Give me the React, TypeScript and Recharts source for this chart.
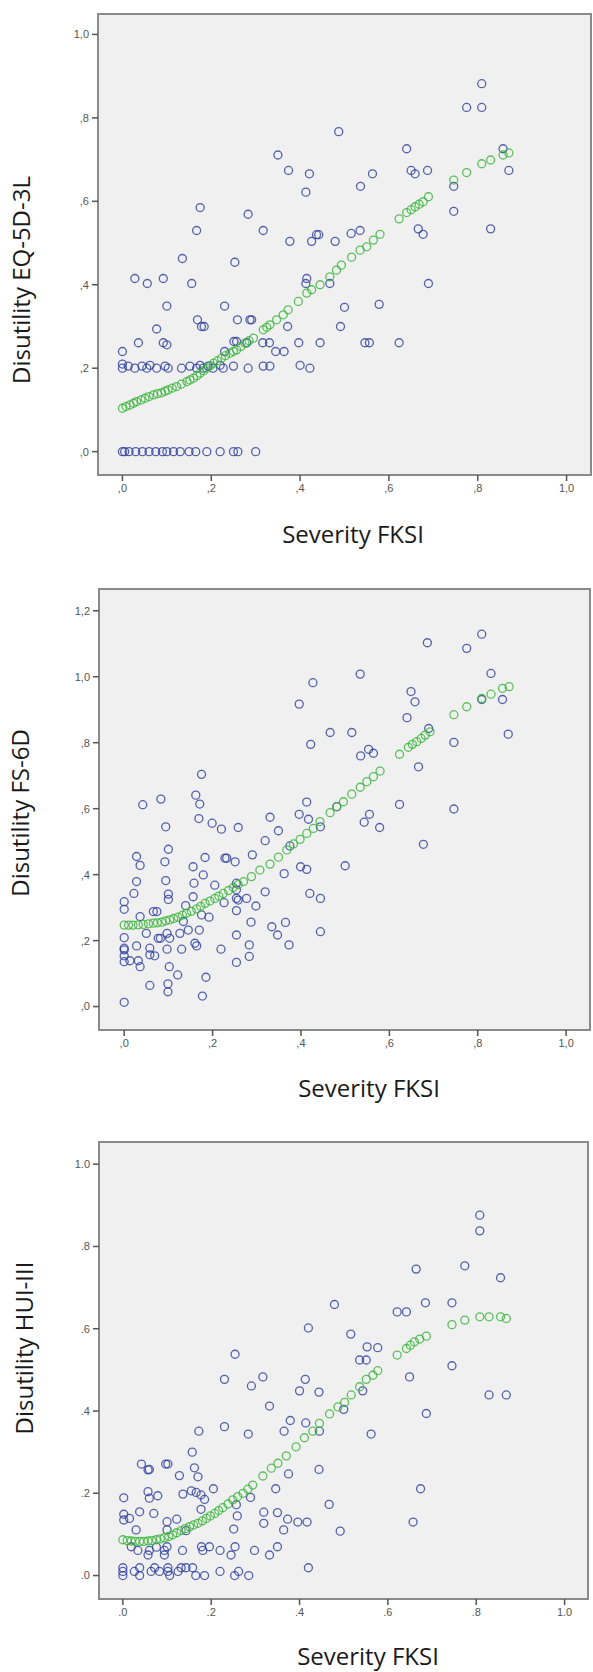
// Three scatter panels: disutility scores against FKSI severity, observed (blue) and fitted (green).

import {
  CartesianGrid,
  ReferenceArea,
  Scatter,
  ScatterChart,
  XAxis,
  YAxis,
} from "recharts";

type Pt = [number, number];

const unitTicks = [0, 0.2, 0.4, 0.6, 0.8, 1.0];
const fsTicks = [0, 0.2, 0.4, 0.6, 0.8, 1.0, 1.2];

// EQ-5D-3L
const eqObserved: Pt[] = [
  [0, 0], [0.005, 0], [0.015, 0], [0.03, 0], [0.045, 0], [0.06, 0], [0.075, 0], [0.09, 0],
  [0.1, 0], [0.115, 0], [0.13, 0], [0.15, 0], [0.165, 0], [0.19, 0], [0.22, 0], [0.25, 0],
  [0.26, 0], [0.3, 0],
  [0, 0.2], [0, 0.21], [0.013, 0.205], [0.028, 0.2], [0.044, 0.205], [0.055, 0.2], [0.062, 0.207],
  [0.077, 0.2], [0.096, 0.205], [0.103, 0.2], [0.133, 0.2], [0.152, 0.205], [0.167, 0.2],
  [0.175, 0.207], [0.182, 0.2], [0.193, 0.205], [0.204, 0.2], [0.22, 0.207], [0.227, 0.2],
  [0.25, 0.205], [0.283, 0.2], [0.317, 0.205], [0.332, 0.205], [0.4, 0.207], [0.422, 0.2],
  [0, 0.24], [0.028, 0.415], [0.056, 0.403], [0.092, 0.415], [0.036, 0.261], [0.077, 0.294],
  [0.1, 0.349], [0.092, 0.261], [0.1, 0.256], [0.135, 0.463], [0.156, 0.403], [0.167, 0.53],
  [0.175, 0.585], [0.169, 0.316], [0.178, 0.3], [0.184, 0.3], [0.23, 0.349], [0.253, 0.454],
  [0.23, 0.24], [0.251, 0.264], [0.257, 0.264], [0.259, 0.316], [0.283, 0.569], [0.287, 0.316],
  [0.291, 0.316], [0.28, 0.261], [0.317, 0.53], [0.316, 0.261], [0.331, 0.261], [0.345, 0.24],
  [0.364, 0.24], [0.35, 0.711], [0.374, 0.674], [0.377, 0.504], [0.372, 0.3], [0.397, 0.261],
  [0.413, 0.622], [0.421, 0.666], [0.415, 0.415], [0.413, 0.403], [0.426, 0.504], [0.442, 0.52],
  [0.437, 0.52], [0.445, 0.261], [0.467, 0.403], [0.479, 0.504], [0.487, 0.767], [0.491, 0.3],
  [0.5, 0.346], [0.515, 0.523], [0.535, 0.53], [0.536, 0.636], [0.563, 0.666], [0.546, 0.261],
  [0.556, 0.261], [0.578, 0.353], [0.623, 0.261], [0.64, 0.726], [0.65, 0.674], [0.659, 0.666],
  [0.687, 0.674], [0.809, 0.882], [0.775, 0.825], [0.809, 0.825], [0.857, 0.726], [0.87, 0.674],
  [0.746, 0.636], [0.746, 0.576], [0.829, 0.534], [0.666, 0.534], [0.677, 0.521], [0.689, 0.403],
];

const eqFitted: Pt[] = [
  [0, 0.104], [0.008, 0.108], [0.017, 0.112], [0.025, 0.116], [0.032, 0.12], [0.042, 0.124],
  [0.051, 0.128], [0.06, 0.132], [0.07, 0.136], [0.079, 0.139], [0.088, 0.141], [0.096, 0.145],
  [0.103, 0.148], [0.112, 0.152], [0.122, 0.156], [0.133, 0.162], [0.145, 0.168], [0.152, 0.172],
  [0.16, 0.176], [0.168, 0.182], [0.175, 0.188], [0.183, 0.194], [0.19, 0.2], [0.198, 0.206],
  [0.205, 0.212], [0.214, 0.218], [0.223, 0.224], [0.232, 0.23], [0.242, 0.236], [0.25, 0.24],
  [0.257, 0.244], [0.267, 0.252], [0.276, 0.26], [0.285, 0.266], [0.295, 0.272], [0.317, 0.292],
  [0.325, 0.298], [0.332, 0.304], [0.347, 0.316], [0.362, 0.328], [0.373, 0.34], [0.396, 0.36],
  [0.415, 0.38], [0.426, 0.388], [0.445, 0.4], [0.467, 0.419], [0.482, 0.435], [0.493, 0.447],
  [0.516, 0.466], [0.535, 0.483], [0.55, 0.491], [0.565, 0.507], [0.58, 0.521],
  [0.623, 0.558], [0.64, 0.573], [0.65, 0.58], [0.659, 0.587], [0.668, 0.593], [0.677, 0.599],
  [0.689, 0.611], [0.746, 0.651], [0.775, 0.669], [0.809, 0.69], [0.829, 0.699], [0.857, 0.711],
  [0.87, 0.716],
];

// FS-6D
const fsObserved: Pt[] = [
  [0, 0.013], [0, 0.136], [0, 0.154], [0, 0.172], [0, 0.177], [0, 0.209], [0, 0.295], [0, 0.318],
  [0.013, 0.139], [0.032, 0.139], [0.036, 0.121], [0.022, 0.343], [0.028, 0.379], [0.028, 0.455],
  [0.036, 0.428], [0.042, 0.612], [0.028, 0.184], [0.036, 0.273], [0.058, 0.064], [0.05, 0.222],
  [0.058, 0.177], [0.058, 0.157], [0.069, 0.154], [0.066, 0.288], [0.074, 0.288], [0.077, 0.207],
  [0.082, 0.207], [0.083, 0.629], [0.094, 0.545], [0.1, 0.477], [0.092, 0.439], [0.094, 0.382],
  [0.1, 0.341], [0.1, 0.325], [0.097, 0.222], [0.103, 0.207], [0.097, 0.174], [0.102, 0.121],
  [0.099, 0.069], [0.099, 0.045], [0.121, 0.096], [0.126, 0.222], [0.13, 0.174], [0.134, 0.258],
  [0.139, 0.306], [0.145, 0.232], [0.156, 0.424], [0.158, 0.374], [0.156, 0.333], [0.162, 0.641],
  [0.171, 0.614], [0.169, 0.57], [0.175, 0.704], [0.179, 0.399], [0.183, 0.452], [0.16, 0.192],
  [0.164, 0.184], [0.17, 0.232], [0.177, 0.032], [0.185, 0.089], [0.175, 0.278], [0.192, 0.271],
  [0.199, 0.556], [0.205, 0.368], [0.22, 0.538], [0.219, 0.174], [0.228, 0.45], [0.232, 0.45],
  [0.226, 0.315], [0.251, 0.439], [0.258, 0.543], [0.254, 0.374], [0.254, 0.354], [0.254, 0.328],
  [0.258, 0.323], [0.254, 0.291], [0.254, 0.217], [0.254, 0.134], [0.277, 0.328], [0.29, 0.46],
  [0.287, 0.256], [0.283, 0.187], [0.283, 0.152], [0.298, 0.305], [0.319, 0.503], [0.319, 0.348],
  [0.33, 0.574], [0.334, 0.242], [0.347, 0.217], [0.349, 0.533], [0.362, 0.403], [0.365, 0.255],
  [0.373, 0.187], [0.375, 0.487], [0.396, 0.917], [0.396, 0.583], [0.399, 0.424], [0.413, 0.416],
  [0.413, 0.62], [0.417, 0.568], [0.42, 0.343], [0.422, 0.795], [0.427, 0.982], [0.444, 0.545],
  [0.444, 0.328], [0.444, 0.227], [0.466, 0.831], [0.5, 0.427], [0.515, 0.831], [0.534, 1.008],
  [0.535, 0.76], [0.553, 0.78], [0.564, 0.768], [0.555, 0.583], [0.543, 0.559], [0.578, 0.543],
  [0.686, 1.103], [0.775, 1.086], [0.809, 1.129], [0.83, 1.01], [0.649, 0.955], [0.658, 0.924],
  [0.64, 0.876], [0.689, 0.843], [0.746, 0.801], [0.666, 0.727], [0.623, 0.613], [0.746, 0.599],
  [0.677, 0.492], [0.809, 0.931], [0.856, 0.931], [0.869, 0.826], [0.481, 0.606],
];

const fsFitted: Pt[] = [
  [0, 0.247], [0.01, 0.247], [0.02, 0.247], [0.032, 0.248], [0.043, 0.249], [0.055, 0.251],
  [0.066, 0.253], [0.075, 0.254], [0.085, 0.256], [0.094, 0.26], [0.103, 0.263], [0.112, 0.267],
  [0.122, 0.271], [0.132, 0.277], [0.141, 0.283], [0.152, 0.289], [0.164, 0.296], [0.173, 0.304],
  [0.183, 0.313], [0.194, 0.32], [0.205, 0.328], [0.214, 0.335], [0.224, 0.343], [0.236, 0.352],
  [0.247, 0.361], [0.258, 0.37], [0.27, 0.379], [0.288, 0.394], [0.307, 0.414], [0.33, 0.432],
  [0.349, 0.453], [0.368, 0.475], [0.383, 0.493], [0.398, 0.507], [0.413, 0.525], [0.428, 0.54],
  [0.443, 0.561], [0.466, 0.588], [0.481, 0.606], [0.496, 0.621], [0.515, 0.644], [0.534, 0.665],
  [0.549, 0.682], [0.564, 0.697], [0.579, 0.714],
  [0.623, 0.765], [0.643, 0.786], [0.652, 0.795], [0.662, 0.803], [0.672, 0.813], [0.681, 0.823],
  [0.692, 0.833], [0.746, 0.885], [0.775, 0.909], [0.809, 0.934], [0.83, 0.947], [0.856, 0.965],
  [0.871, 0.97],
];

// HUI-III
const huiObserved: Pt[] = [
  [0, 0], [0, 0.01], [0, 0.019], [0.026, 0.01], [0.038, 0], [0.038, 0.019], [0.064, 0.01],
  [0.072, 0.019], [0.083, 0.01], [0.102, 0.019], [0.102, 0.01], [0.106, 0], [0.125, 0.01],
  [0.132, 0.019], [0.143, 0.019], [0.158, 0.019], [0.165, 0], [0.185, 0], [0.22, 0.01],
  [0.253, 0], [0.262, 0.01], [0.285, 0], [0.42, 0.019],
  [0.019, 0.07], [0.034, 0.061], [0.057, 0.05], [0.06, 0.061], [0.076, 0.069], [0.094, 0.061],
  [0.1, 0.07], [0.094, 0.05], [0.135, 0.061], [0.178, 0.07], [0.181, 0.061], [0.196, 0.07],
  [0.22, 0.061], [0.245, 0.05], [0.254, 0.07], [0.298, 0.061], [0.332, 0.05], [0.35, 0.07],
  [0.002, 0.189], [0.002, 0.149], [0.002, 0.135], [0.015, 0.139], [0.03, 0.111], [0.038, 0.155],
  [0.07, 0.151], [0.057, 0.204], [0.06, 0.188], [0.079, 0.194], [0.042, 0.271], [0.057, 0.257],
  [0.06, 0.258], [0.097, 0.271], [0.102, 0.271], [0.1, 0.131], [0.1, 0.111], [0.122, 0.137],
  [0.128, 0.243], [0.136, 0.198], [0.143, 0.109], [0.157, 0.3], [0.162, 0.262], [0.17, 0.24],
  [0.155, 0.206], [0.166, 0.202], [0.177, 0.196], [0.185, 0.185], [0.172, 0.351], [0.177, 0.161],
  [0.205, 0.211], [0.23, 0.477], [0.23, 0.362], [0.254, 0.538], [0.257, 0.172], [0.259, 0.145],
  [0.251, 0.113], [0.284, 0.344], [0.291, 0.461], [0.289, 0.19], [0.317, 0.483], [0.319, 0.154],
  [0.319, 0.127], [0.332, 0.412], [0.346, 0.211], [0.35, 0.153], [0.365, 0.351], [0.379, 0.377],
  [0.364, 0.111], [0.373, 0.137], [0.375, 0.247], [0.396, 0.13], [0.417, 0.13], [0.4, 0.449],
  [0.413, 0.477], [0.42, 0.602], [0.414, 0.371], [0.444, 0.446], [0.445, 0.351], [0.444, 0.258],
  [0.467, 0.173], [0.479, 0.659], [0.492, 0.108], [0.5, 0.404], [0.516, 0.587], [0.536, 0.524],
  [0.551, 0.524], [0.543, 0.449], [0.553, 0.556], [0.577, 0.554], [0.562, 0.344], [0.664, 0.745],
  [0.621, 0.641], [0.642, 0.641], [0.685, 0.663], [0.745, 0.663], [0.774, 0.753], [0.808, 0.876],
  [0.808, 0.838], [0.855, 0.724], [0.649, 0.483], [0.745, 0.51], [0.687, 0.394], [0.829, 0.439],
  [0.868, 0.439], [0.674, 0.211], [0.657, 0.13],
];

const huiFitted: Pt[] = [
  [0, 0.087], [0.01, 0.085], [0.019, 0.084], [0.028, 0.083], [0.038, 0.083], [0.047, 0.083],
  [0.057, 0.084], [0.066, 0.085], [0.076, 0.087], [0.085, 0.089], [0.094, 0.092], [0.104, 0.095],
  [0.113, 0.099], [0.122, 0.104], [0.132, 0.109], [0.141, 0.114], [0.151, 0.119], [0.16, 0.123],
  [0.17, 0.127], [0.18, 0.133], [0.189, 0.139], [0.198, 0.145], [0.208, 0.151], [0.217, 0.158],
  [0.226, 0.165], [0.238, 0.174], [0.249, 0.184], [0.26, 0.192], [0.272, 0.2], [0.283, 0.21],
  [0.294, 0.22], [0.317, 0.242], [0.336, 0.261], [0.351, 0.273], [0.37, 0.291], [0.392, 0.313],
  [0.411, 0.335], [0.43, 0.351], [0.445, 0.37], [0.468, 0.393], [0.487, 0.41], [0.502, 0.421],
  [0.517, 0.439], [0.536, 0.459], [0.551, 0.477], [0.566, 0.487], [0.577, 0.498],
  [0.621, 0.536], [0.642, 0.552], [0.651, 0.56], [0.66, 0.568], [0.672, 0.575], [0.687, 0.582],
  [0.745, 0.61], [0.774, 0.621], [0.808, 0.629], [0.829, 0.629], [0.855, 0.629], [0.868, 0.625],
];

const BLUE = "#2c3d9e";
const GREEN = "#36b436";

const ring = (color: string) => (p: any) => (
  <circle
    cx={p.cx}
    cy={p.cy}
    r={4}
    fill="none"
    stroke={color}
    strokeWidth={1.3}
    strokeOpacity={0.8}
  />
);

const fmt = (sep: string) => (v: number) => {
  const s = v.toFixed(1).replace(/^0/, "");
  return sep === "," ? s.replace(".", ",") : s;
};

const title = (text: string, x: number, y: number, vertical: boolean) => () => (
  <text
    x={x}
    y={y}
    transform={vertical ? `rotate(-90 ${x} ${y})` : undefined}
    textAnchor="middle"
    dominantBaseline="central"
    fontFamily="'Open Sans', sans-serif"
    fontSize={24}
    fill="#1a1a1a"
  >
    {text}
  </text>
);

interface PanelProps {
  top: number;
  height: number;
  margin: { top: number; right: number; bottom: number; left: number };
  xHeight: number;
  xDomain: [number, number];
  yDomain: [number, number];
  yTicks: number[];
  sep: string;
  yTitle: string;
  xTitlePos: [number, number];
  yTitlePos: [number, number];
  observed: Pt[];
  fitted: Pt[];
}

const tickStyle = { fontSize: 11, fill: "#555", fontFamily: "'Liberation Sans', Arial, sans-serif" };
const tickLine = { stroke: "#555", strokeWidth: 1.5 };

function Panel(props: PanelProps) {
  const { xDomain, yDomain } = props;
  return (
    <div style={{ position: "absolute", left: 0, top: props.top }}>
      <ScatterChart width={593} height={props.height} margin={props.margin}>
        <CartesianGrid fill="#f0f0f0" horizontal={false} vertical={false} stroke="none" />
        <XAxis
          type="number"
          dataKey="x"
          domain={xDomain}
          allowDataOverflow
          ticks={unitTicks}
          tickFormatter={fmt(props.sep)}
          tick={tickStyle}
          tickLine={tickLine}
          axisLine={false}
          tickSize={6}
          tickMargin={3}
          height={props.xHeight}
          label={title("Severity FKSI", props.xTitlePos[0], props.xTitlePos[1], false)}
        />
        <YAxis
          type="number"
          dataKey="y"
          domain={yDomain}
          allowDataOverflow
          ticks={props.yTicks}
          tickFormatter={fmt(props.sep)}
          tick={tickStyle}
          tickLine={tickLine}
          axisLine={false}
          tickSize={6}
          tickMargin={3}
          width={60}
          label={title(props.yTitle, props.yTitlePos[0], props.yTitlePos[1], true)}
        />
        <ReferenceArea
          x1={xDomain[0]}
          x2={xDomain[1]}
          y1={yDomain[0]}
          y2={yDomain[1]}
          fill="none"
          stroke="#8a8a8a"
          strokeWidth={2}
        />
        <Scatter
          data={props.observed.map(([x, y]) => ({ x, y }))}
          shape={ring(BLUE)}
          isAnimationActive={false}
        />
        <Scatter
          data={props.fitted.map(([x, y]) => ({ x, y }))}
          shape={ring(GREEN)}
          isAnimationActive={false}
        />
      </ScatterChart>
    </div>
  );
}

export default function App() {
  return (
    <div
      style={{
        position: "absolute",
        left: 0,
        top: 0,
        width: 593,
        height: 1672,
        background: "#fff",
        overflow: "hidden",
      }}
    >
      <Panel
        top={0}
        height={560}
        margin={{ top: 14, right: 2, bottom: 0, left: 38 }}
        xHeight={85}
        xDomain={[-0.055, 1.055]}
        yDomain={[-0.056, 1.049]}
        yTicks={unitTicks}
        sep=","
        yTitle="Disutility EQ-5D-3L"
        xTitlePos={[353, 533]}
        yTitlePos={[20, 280]}
        observed={eqObserved}
        fitted={eqFitted}
      />
      <Panel
        top={560}
        height={560}
        margin={{ top: 29, right: 3, bottom: 0, left: 39 }}
        xHeight={90}
        xDomain={[-0.057, 1.054]}
        yDomain={[-0.071, 1.266]}
        yTicks={fsTicks}
        sep=","
        yTitle="Disutility FS-6D"
        xTitlePos={[369, 527]}
        yTitlePos={[19, 253]}
        observed={fsObserved}
        fitted={fsFitted}
      />
      <Panel
        top={1120}
        height={552}
        margin={{ top: 22, right: 5, bottom: 0, left: 39 }}
        xHeight={73}
        xDomain={[-0.054, 1.053]}
        yDomain={[-0.057, 1.054]}
        yTicks={unitTicks}
        sep="."
        yTitle="Disutility HUI-III"
        xTitlePos={[368, 535]}
        yTitlePos={[23, 228]}
        observed={huiObserved}
        fitted={huiFitted}
      />
    </div>
  );
}
